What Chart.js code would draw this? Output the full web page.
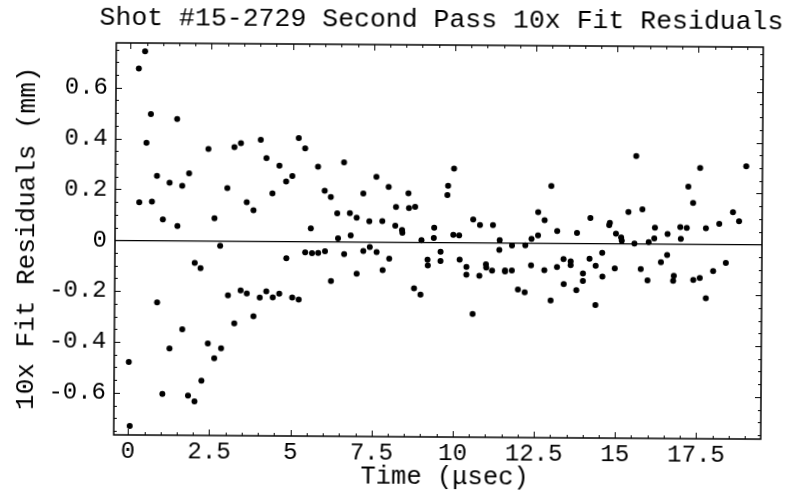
<!DOCTYPE html>
<html>
<head>
<meta charset="utf-8">
<script src="https://cdn.jsdelivr.net/npm/chart.js@4.4.1/dist/chart.umd.min.js"></script>
<style>
  html, body { margin: 0; padding: 0; background: #fff; }
  #wrap { width: 786px; height: 501px; overflow: hidden; }
  /* the scanned original is tilted a little clockwise */
  #chart { transform: rotate(0.38deg); transform-origin: 439px 242px; }
</style>
</head>
<body>
<div id="wrap"><canvas id="chart" width="786" height="501"></canvas></div>
<script>
const chartTitle = 'Shot #15-2729 Second Pass 10x Fit Residuals'
// leading space: the original label sits a little right of the axis centre
const xTitle = '\u00a0Time (\u03bcsec)'
const yTitle = '10x Fit Residuals (mm)'

const xTicks = [0, 2.5, 5, 7.5, 10, 12.5, 15, 17.5]
const xTickLabels = ['0', '2.5', '5', '7.5', '10', '12.5', '15', '17.5']
const yTicks = [-0.6, -0.4, -0.2, 0, 0.2, 0.4, 0.6]
const yTickLabels = ['-0.6', '-0.4', '-0.2', '0', '0.2', '0.4', '0.6']

// time of each residual (usec)
const timeUs = [
  0.01, 0.05, 0.26, 0.30, 0.45, 0.51, 0.64, 0.69, 0.84, 0.87,
  1.03, 1.05, 1.23, 1.26, 1.45, 1.48, 1.62, 1.65, 1.83, 1.84,
  2.02, 2.04, 2.20, 2.25, 2.42, 2.44, 2.62, 2.64, 2.80, 2.85,
  3.01, 3.05, 3.22, 3.25, 3.42, 3.44, 3.61, 3.63, 3.82, 3.84,
  4.03, 4.03, 4.21, 4.23, 4.40, 4.43, 4.61, 4.63, 4.82, 4.84,
  5.01, 5.03, 5.20, 5.23, 5.40, 5.42, 5.59, 5.63, 5.80, 5.82,
  6.01, 6.03, 6.20, 6.22, 6.40, 6.43, 6.60, 6.62, 6.79, 6.82,
  7.00, 7.01, 7.20, 7.21, 7.39, 7.41, 7.60, 7.62, 7.79, 7.81,
  7.98, 8.01, 8.19, 8.21, 8.40, 8.41, 8.59, 8.61, 8.78, 8.80,
  8.98, 9.00, 9.19, 9.20, 9.38, 9.39, 9.59, 9.59, 9.79, 9.81,
  9.98, 9.99, 10.16, 10.18, 10.39, 10.39, 10.59, 10.59, 10.79, 10.80,
  10.99, 11.00, 11.18, 11.20, 11.40, 11.41, 11.58, 11.58, 11.79, 11.79,
  11.98, 12.19, 12.20, 12.38, 12.39, 12.59, 12.59, 12.79, 12.79, 12.99,
  12.99, 13.18, 13.18, 13.38, 13.39, 13.60, 13.60, 13.78, 13.79, 13.98,
  13.98, 14.18, 14.20, 14.37, 14.37, 14.57, 14.58, 14.78, 14.80, 14.96,
  14.99, 15.15, 15.17, 15.37, 15.56, 15.60, 15.76, 15.80, 15.97, 16.00,
  16.17, 16.19, 16.38, 16.57, 16.58, 16.76, 16.78, 16.97, 16.99, 17.17,
  17.21, 17.36, 17.38, 17.57, 17.58, 17.76, 17.77, 17.99, 18.17, 18.38,
  18.59, 18.78, 18.99
]

// 10x fit residual (mm)
const residualMm = [
  -0.479, -0.731, 0.676, 0.150, 0.744, 0.384, 0.497, 0.153, 0.254, -0.244,
  0.083, -0.604, 0.227, -0.425, 0.478, 0.057, 0.215, -0.349, 0.265, -0.610,
  -0.087, -0.632, -0.108, -0.551, 0.361, -0.404, 0.089, -0.462, -0.020, -0.423,
  0.208, -0.214, 0.369, -0.324, 0.385, -0.195, 0.153, -0.206, 0.121, -0.296,
  0.398, -0.222, 0.327, -0.198, 0.188, -0.221, 0.297, -0.206, 0.235, -0.067,
  0.257, -0.221, 0.406, -0.229, 0.366, -0.043, 0.051, -0.046, 0.294, -0.045,
  0.200, -0.038, 0.175, -0.155, 0.111, 0.013, 0.312, -0.049, 0.112, 0.025,
  0.094, -0.126, 0.190, -0.036, 0.081, -0.021, 0.256, -0.040, 0.082, -0.111,
  0.216, -0.066, 0.064, 0.138, 0.047, 0.036, 0.192, 0.134, -0.182, 0.139,
  -0.206, 0.008, -0.069, -0.091, 0.017, 0.057, -0.037, -0.074, 0.186, 0.222,
  0.030, 0.290, 0.028, -0.068, -0.096, -0.127, 0.091, -0.281, -0.131, 0.069,
  -0.085, -0.098, -0.110, 0.069, -0.028, 0.010, -0.109, -0.113, -0.011, -0.109,
  -0.184, -0.195, -0.010, -0.088, 0.016, 0.121, 0.030, 0.090, -0.107, 0.224,
  -0.226, 0.047, -0.094, -0.063, -0.161, -0.072, -0.086, -0.185, 0.040, -0.119,
  -0.148, -0.061, 0.099, -0.088, -0.243, -0.037, -0.131, 0.072, 0.081, -0.098,
  0.038, 0.024, 0.011, 0.124, 0.000, 0.344, -0.100, 0.135, -0.144, 0.006,
  0.021, 0.063, -0.073, -0.044, 0.038, -0.145, -0.126, 0.066, 0.020, 0.063,
  0.225, 0.161, -0.142, 0.299, -0.134, 0.062, -0.213, -0.106, 0.080, -0.074,
  0.126, 0.091, 0.307
]

const monoFont = '"Liberation Mono", "Courier New", monospace'

// Mathematica style frame: box with inward ticks on all four sides
const framePlugin = {
  id: 'frame',
  afterDraw(chart) {
    const { ctx, chartArea: a, scales: { x, y } } = chart
    ctx.save()
    ctx.strokeStyle = '#000'
    ctx.lineWidth = 1.5
    ctx.strokeRect(a.left, a.top, a.right - a.left, a.bottom - a.top)
    ctx.lineWidth = 1
    ctx.beginPath()
    for (let i = Math.ceil(x.min / 0.5); i * 0.5 <= x.max; i++) {
      const px = Math.round(x.getPixelForValue(i * 0.5)) + 0.5
      const len = i % 5 === 0 ? 6 : 3
      ctx.moveTo(px, a.bottom); ctx.lineTo(px, a.bottom - len)
      ctx.moveTo(px, a.top); ctx.lineTo(px, a.top + len)
    }
    for (let i = Math.ceil(y.min / 0.05); i * 0.05 <= y.max; i++) {
      const py = Math.round(y.getPixelForValue(i * 0.05)) + 0.5
      const len = i % 4 === 0 ? 6 : 3
      ctx.moveTo(a.left, py); ctx.lineTo(a.left + len, py)
      ctx.moveTo(a.right, py); ctx.lineTo(a.right - len, py)
    }
    ctx.stroke()

    ctx.fillStyle = '#000'
    ctx.font = '26.5px ' + monoFont
    ctx.textAlign = 'center'
    ctx.textBaseline = 'middle'
    ctx.fillText(chartTitle, 440, 20)
    ctx.restore()
  }
}

new Chart(document.getElementById('chart').getContext('2d'), {
  type: 'scatter',
  data: {
    datasets: [{
      data: timeUs.map((t, i) => ({ x: t, y: residualMm[i] })),
      backgroundColor: '#000',
      borderWidth: 0,
      pointRadius: 3,
      pointHoverRadius: 3
    }]
  },
  options: {
    responsive: false,
    animation: false,
    layout: { padding: { top: 45, right: 24, left: 0, bottom: 0 } },
    plugins: {
      legend: { display: false },
      tooltip: { enabled: false }
    },
    scales: {
      x: {
        type: 'linear',
        min: -0.44,
        max: 19.49,
        afterBuildTicks: s => { s.ticks = xTicks.map(v => ({ value: v })) },
        afterFit: s => { s.height = 64 },
        grid: { display: false, drawTicks: false },
        border: { display: false },
        ticks: {
          color: '#000',
          padding: 2,
          maxRotation: 0,
          autoSkip: false,
          font: { family: monoFont, size: 24 },
          callback: (v, i) => xTickLabels[i]
        },
        title: {
          display: true,
          text: xTitle,
          color: '#000',
          padding: { top: 0, bottom: 8 },
          font: { family: monoFont, size: 25.5 }
        }
      },
      y: {
        type: 'linear',
        min: -0.766,
        max: 0.776,
        afterBuildTicks: s => { s.ticks = yTicks.map(v => ({ value: v })) },
        afterFit: s => { s.width = 115 },
        grid: {
          drawTicks: false,
          lineWidth: 1.2,
          color: c => (c.tick && c.tick.value === 0 ? '#000' : 'rgba(0,0,0,0)')
        },
        border: { display: false },
        ticks: {
          color: '#000',
          padding: 8,
          autoSkip: false,
          font: { family: monoFont, size: 24 },
          callback: (v, i) => yTickLabels[i]
        },
        title: {
          display: true,
          text: yTitle,
          color: '#000',
          padding: { top: 12, bottom: 0 },
          font: { family: monoFont, size: 26 }
        }
      }
    }
  },
  plugins: [framePlugin]
})
</script>
</body>
</html>
